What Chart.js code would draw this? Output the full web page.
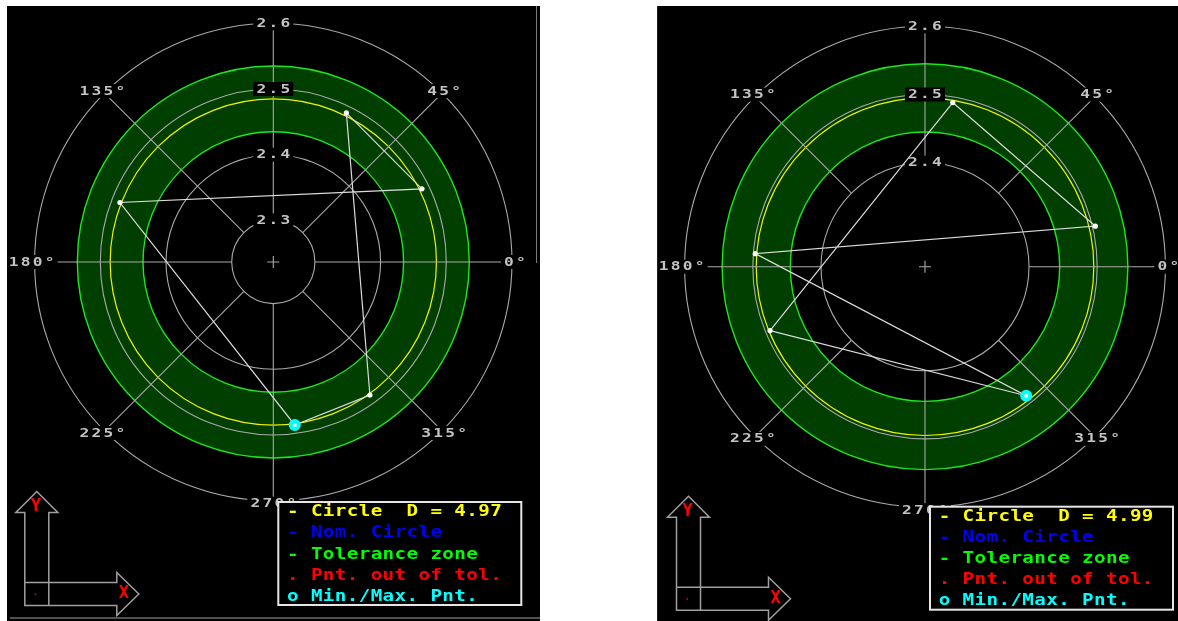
<!DOCTYPE html>
<html>
<head>
<meta charset="utf-8">
<title>Roundness plots</title>
<script src="https://cdn.jsdelivr.net/npm/chart.js@4.4.1/dist/chart.umd.min.js"></script>
<style>
  html, body { margin: 0; padding: 0; background: #fff; }
  body { width: 1178px; height: 621px; position: relative; overflow: hidden; }
  canvas { position: absolute; background: #000; }
  #leftPlot { left: 7px; top: 6px; }
  #rightPlot { left: 657px; top: 6px; }
  .edge { position: absolute; }
</style>
</head>
<body>
<canvas id="leftPlot" width="533" height="615"></canvas>
<canvas id="rightPlot" width="521" height="615"></canvas>
<div class="edge" style="left:536px; top:6px; width:1px; height:257px; background:#7a7a7a;"></div>
<div class="edge" style="left:10px; top:617px; width:530px; height:2px; background:#505050;"></div>
<div class="edge" style="left:657px; top:6px; width:1px; height:615px; background:#1c1c48;"></div>
<script>
// measured points (angle in degrees, radius) - left plot
const leftAngles = [63.9, 26.2, 158.8, 277.5, 306.0];
const leftRadii = [2.4894, 2.4889, 2.4871, 2.4869, 2.4869];
const leftMinMaxIndex = [3];
const leftDiameter = [4.97];
const leftRings = [2.3, 2.4, 2.5, 2.6];

// right plot
const rightAngles = [80.4, 13.4, 175.6, 308.1, 202.4];
const rightRadii = [2.4916, 2.5042, 2.4971, 2.4879, 2.4933];
const rightMinMaxIndex = [3];
const rightDiameter = [4.99];
const rightRings = [2.4, 2.5, 2.6];

const tolerance = [0.05];
const angleTicks = [0, 45, 90, 135, 180, 225, 270, 315];
const angleLabels = ['0°', '45°', '', '135°', '180°', '225°', '270°', '315°'];
const legendLabels = ['- Circle  D = ', '- Nom. Circle', '- Tolerance zone', '. Pnt. out of tol.', 'o Min./Max. Pnt.'];
const legendColors = ['#ffff00', '#0000ff', '#00ff00', '#ff0000', '#00ffff'];

const MONO = '"DejaVu Sans Mono", monospace';

// draw text char by char on a fixed pitch, glyphs stretched a bit
// (the original uses a wide bitmap font)
function monoText(ctx, text, left, y, pitch, color, stretch) {
    ctx.fillStyle = color;
    ctx.textAlign = 'center';
    ctx.textBaseline = 'middle';
    for (let i = 0; i < text.length; i++) {
        ctx.save();
        ctx.translate(left + pitch * (i + 0.5), y);
        ctx.scale(stretch, 1);
        ctx.fillText(text[i], 0, 0);
        ctx.restore();
    }
}

function labelWithBackdrop(ctx, text, x, y) {
    const pitch = 12;
    const w = text.length * pitch;
    ctx.fillStyle = '#000';
    ctx.fillRect(x - w / 2 - 2, y - 7, w + 4, 14);
    ctx.font = 'bold 12px ' + MONO;
    monoText(ctx, text, x - w / 2, y + 0.5, pitch, '#c4c4c4', 1.35);
}

function toXY(angles, radii, rMin) {
    return angles.map((a, i) => {
        const t = a * Math.PI / 180;
        const d = radii[i] - rMin;
        return { x: d * Math.cos(t), y: d * Math.sin(t) };
    });
}

function polarPlugin(p) {
    return {
        id: 'polarGrid',
        beforeDatasetsDraw(chart) {
            const ctx = chart.ctx;
            const xs = chart.scales.x, ys = chart.scales.y;
            const cx = xs.getPixelForValue(0), cy = ys.getPixelForValue(0);
            const rad = v => xs.getPixelForValue(v - p.rMin) - cx;
            const fit = p.diameter / 2, tol = tolerance[0];
            const rings = p.rings;
            const inner = rings[0], outer = rings[rings.length - 1];
            ctx.save();

            // tolerance zone
            ctx.beginPath();
            ctx.arc(cx, cy, rad(fit + tol), 0, Math.PI * 2);
            ctx.arc(cx, cy, rad(fit - tol), 0, Math.PI * 2, true);
            ctx.fillStyle = '#003f00';
            ctx.fill();
            ctx.strokeStyle = '#1ee61e';
            ctx.lineWidth = 1.4;
            [fit + tol, fit - tol].forEach(v => {
                ctx.beginPath();
                ctx.arc(cx, cy, rad(v), 0, Math.PI * 2);
                ctx.stroke();
            });

            // grid rings
            ctx.strokeStyle = '#aaaaaa';
            ctx.lineWidth = 1.1;
            rings.forEach(v => {
                ctx.beginPath();
                ctx.arc(cx, cy, rad(v), 0, Math.PI * 2);
                ctx.stroke();
            });

            // fitted circle
            ctx.strokeStyle = '#f2f200';
            ctx.lineWidth = 1.2;
            ctx.beginPath();
            ctx.arc(cx, cy, rad(fit), 0, Math.PI * 2);
            ctx.stroke();

            // angle lines from the inner ring out to the outer ring
            ctx.strokeStyle = '#aaaaaa';
            ctx.lineWidth = 1.1;
            angleTicks.forEach(a => {
                const t = a * Math.PI / 180;
                const r0 = rad(inner), r1 = rad(outer);
                ctx.beginPath();
                ctx.moveTo(cx + r0 * Math.cos(t), cy - r0 * Math.sin(t));
                ctx.lineTo(cx + r1 * Math.cos(t), cy - r1 * Math.sin(t));
                ctx.stroke();
            });

            // centre cross
            ctx.beginPath();
            ctx.moveTo(cx - 6, cy); ctx.lineTo(cx + 6, cy);
            ctx.moveTo(cx, cy - 6); ctx.lineTo(cx, cy + 6);
            ctx.stroke();

            // ring values along the top
            rings.forEach(v => labelWithBackdrop(ctx, v.toFixed(1), cx, cy - rad(v)));

            // angle labels sit on the outer ring
            const rl = rad(outer) + 3;
            angleTicks.forEach((a, i) => {
                if (!angleLabels[i]) return;
                const t = a * Math.PI / 180;
                labelWithBackdrop(ctx, angleLabels[i], cx + rl * Math.cos(t), cy - rl * Math.sin(t));
            });
            ctx.restore();
        },
        afterDraw(chart) {
            const ctx = chart.ctx;
            const cx = chart.scales.x.getPixelForValue(0), cy = chart.scales.y.getPixelForValue(0);
            ctx.save();

            // legend box
            const bx = cx + 5, by = cy + 240;
            ctx.fillStyle = '#000';
            ctx.fillRect(bx, by, 243, 103);
            ctx.strokeStyle = '#e6e6e6';
            ctx.lineWidth = 2;
            ctx.strokeRect(bx, by, 243, 103);
            ctx.font = 'bold 15px ' + MONO;
            legendLabels.forEach((txt, i) => {
                const s = i === 0 ? txt + p.diameter.toFixed(2) : txt;
                monoText(ctx, s, bx + 8.5, by + 10.5 + i * 21.1, 11.95, legendColors[i], 1.28);
            });

            // X / Y direction symbol
            const ox = cx - 248.5, oy = cy + 343.5;
            ctx.strokeStyle = '#a0a0a0';
            ctx.lineWidth = 1.5;
            ctx.beginPath();
            ctx.moveTo(ox, oy);
            ctx.lineTo(ox, oy - 93); ctx.lineTo(ox - 9, oy - 93); ctx.lineTo(ox + 12, oy - 114);
            ctx.lineTo(ox + 33, oy - 93); ctx.lineTo(ox + 24, oy - 93); ctx.lineTo(ox + 24, oy);
            ctx.closePath();
            ctx.moveTo(ox, oy - 23);
            ctx.lineTo(ox + 92, oy - 23); ctx.lineTo(ox + 92, oy - 33); ctx.lineTo(ox + 114, oy - 11.5);
            ctx.lineTo(ox + 92, oy + 10); ctx.lineTo(ox + 92, oy); ctx.lineTo(ox, oy);
            ctx.stroke();
            ctx.fillStyle = '#ff0000';
            ctx.font = 'bold 17px ' + MONO;
            ctx.textAlign = 'center';
            ctx.textBaseline = 'middle';
            ctx.fillText('Y', ox + 11, oy - 99);
            ctx.fillText('X', ox + 99, oy - 12);
            ctx.fillRect(ox + 10, oy - 12, 1.5, 1.5);
            ctx.restore();
        }
    };
}

function makePlot(p) {
    const canvas = document.getElementById(p.id);
    const W = canvas.width, H = canvas.height;
    const [cx, cy] = p.center;
    const k = p.pxPerUnit;
    const pts = toXY(p.angles, p.radii, p.rMin);
    const loop = pts.concat([pts[0]]); // close the profile

    new Chart(canvas, {
        type: 'scatter',
        data: {
            datasets: [{
                label: 'Min./Max. Pnt.',
                data: p.minMax.map(i => pts[i]),
                pointRadius: 4,
                pointBorderWidth: 4,
                pointBackgroundColor: '#ffffff',
                pointBorderColor: '#00ffff'
            }, {
                label: 'Profile',
                data: loop,
                showLine: true,
                borderColor: '#dcdcdc',
                borderWidth: 1.2,
                pointRadius: loop.map((_, i) => i === loop.length - 1 ? 0 : 2.6),
                pointBackgroundColor: '#ffffff',
                pointBorderColor: '#ffffff',
                pointBorderWidth: 0
            }]
        },
        options: {
            responsive: false,
            animation: false,
            events: [],
            layout: { padding: 0, autoPadding: false }, // keep the scales on the exact canvas edges
            scales: {
                x: { type: 'linear', display: false, min: -cx / k, max: (W - cx) / k },
                y: { type: 'linear', display: false, min: -(H - cy) / k, max: cy / k }
            },
            plugins: {
                legend: { display: false },
                tooltip: { enabled: false }
            }
        },
        plugins: [polarPlugin(p)]
    });
}

document.addEventListener('DOMContentLoaded', () => {
    const panels = [{
        id: 'leftPlot', angles: leftAngles, radii: leftRadii, minMax: leftMinMaxIndex,
        diameter: leftDiameter[0], rings: leftRings,
        center: [266.3, 256], pxPerUnit: 657, rMin: 2.2367
    }, {
        id: 'rightPlot', angles: rightAngles, radii: rightRadii, minMax: rightMinMaxIndex,
        diameter: rightDiameter[0], rings: rightRings,
        center: [268, 260.7], pxPerUnit: 682, rMin: 2.2475
    }];
    panels.forEach(p => {
        try {
            makePlot(p);
        } catch (e) {
            console.error('plot failed:', p.id, e);
        }
    });
});
</script>
</body>
</html>
